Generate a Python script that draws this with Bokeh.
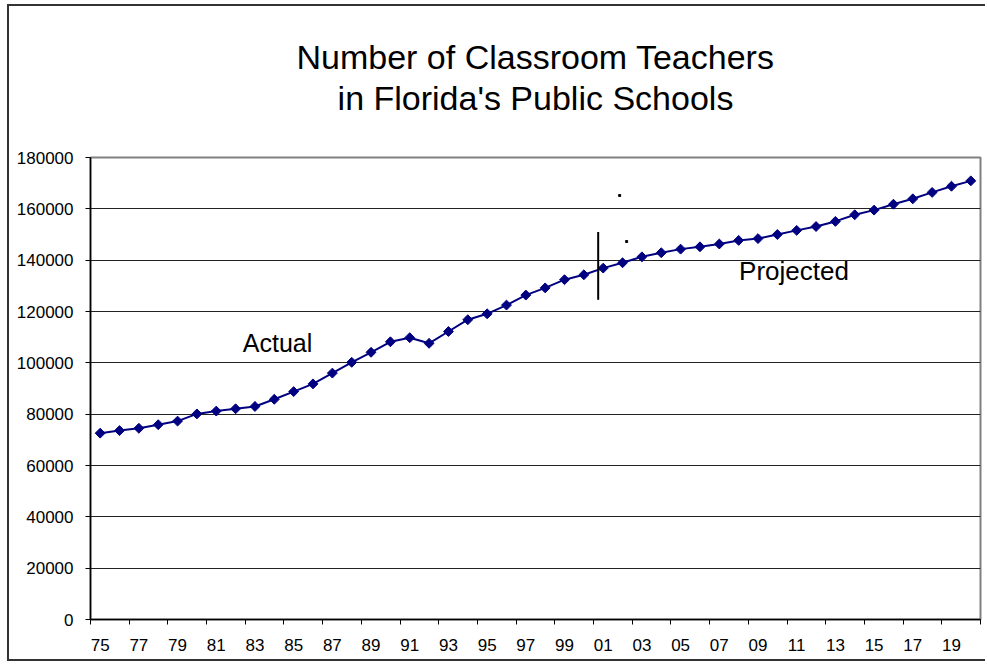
import numpy as np
from bokeh.plotting import figure
from bokeh.models import FixedTicker, Range1d, Label, Title
from bokeh.embed import file_html
from bokeh.resources import INLINE

# ---- data ----
years = list(range(1975, 2021))
teachers = [72600, 73600, 74500, 75900, 77300, 80100, 81200, 82100, 83000, 85800,
            88800, 91800, 96000, 100200, 104100, 108200, 109800, 107600, 112200, 116800,
            119100, 122500, 126400, 129200, 132400, 134300, 136900, 139000, 141300, 142900,
            144300, 145200, 146300, 147700, 148400, 150000, 151600, 153100, 155100, 157700,
            159500, 161800, 163900, 166400, 168800, 170900]
x_tick_years = years[::2]
x_tick_labels = ["%02d" % (y % 100) for y in x_tick_years]
y_ticks = [0, 20000, 40000, 60000, 80000, 100000, 120000, 140000, 160000, 180000]
y_tick_labels = [str(v) for v in y_ticks]
title_lines = ["Number of Classroom Teachers", "in Florida's Public Schools"]
annot_actual = "Actual"
annot_projected = "Projected"
divider_year = 2000.74
divider_range = [124560, 150970]
stray_dots_x = [2001.85, 2002.21]
stray_dots_y = [165200, 147270]

FONT = "Liberation Sans"
NAVY = "#000080"

p = figure(width=978, height=657,
           x_range=Range1d(1974.5, 2020.5), y_range=Range1d(0, 180000),
           output_backend="svg", toolbar_location=None,
           min_border_left=81, min_border_right=7,
           min_border_top=151, min_border_bottom=44)
p.styles = {"border-left": "2px solid #333", "border-top": "2px solid #333",
            "border-bottom": "2px solid #333",
            "margin-left": "7px", "margin-top": "4px"}
p.background_fill_color = "white"
p.border_fill_color = "white"
p.outline_line_color = "#808080"
p.outline_line_width = 2

# x axis: labels at odd-year category centres, ticks at category boundaries
p.xaxis.ticker = FixedTicker(ticks=x_tick_years,
                             minor_ticks=[y - 0.5 for y in x_tick_years] + [years[-1] + 0.5])
p.xaxis.major_label_overrides = dict(zip(x_tick_years, x_tick_labels))
p.xaxis.major_tick_out = 0
p.xaxis.major_tick_in = 0
p.xaxis.minor_tick_out = 5
p.xaxis.minor_tick_in = 0
p.xaxis.minor_tick_line_color = "black"
p.xaxis.major_label_standoff = 14
p.xgrid.visible = False

p.yaxis.ticker = FixedTicker(ticks=y_ticks)
p.yaxis.major_label_overrides = dict(zip(y_ticks, y_tick_labels))
p.yaxis.major_tick_out = 5
p.yaxis.major_tick_in = 0
p.yaxis.minor_tick_line_color = None
p.yaxis.major_label_standoff = 12
p.ygrid.ticker = FixedTicker(ticks=y_ticks[1:-1])
p.ygrid.grid_line_color = "#222222"
p.ygrid.grid_line_width = 1

for ax in (p.xaxis, p.yaxis):
    ax.axis_line_color = "black"
    ax.axis_line_width = 1.5
    ax.major_tick_line_color = "black"
    ax.major_label_text_font = FONT
    ax.major_label_text_font_size = "17px"
    ax.major_label_text_color = "black"

p.line(years, teachers, line_color=NAVY, line_width=2)
p.scatter(years, teachers, marker="square", angle=np.pi / 4, size=7,
          fill_color=NAVY, line_color=NAVY)

p.segment(x0=[divider_year], y0=[divider_range[0]], x1=[divider_year], y1=[divider_range[1]],
          line_color="black", line_width=2)
p.scatter(stray_dots_x, stray_dots_y, marker="square", size=2, fill_color="black", line_color="black")

# two-line title (a trailing blank line keeps it clear of the plot area)
p.add_layout(Title(text="\n".join(title_lines + [" "]), align="center", text_align="center",
                   text_font=FONT, text_font_size="34px", text_font_style="normal",
                   text_color="black", text_line_height=1.07, standoff=0), "above")

p.add_layout(Label(x=1982.37, y=107600, text=annot_actual, text_align="left",
                   text_baseline="alphabetic", text_font=FONT, text_font_size="25px",
                   text_color="black"))
p.add_layout(Label(x=2008.02, y=135700, text=annot_projected, text_align="left",
                   text_baseline="alphabetic", text_font=FONT, text_font_size="26px",
                   text_color="black"))

open("out.html", "w").write(file_html(p, INLINE))
